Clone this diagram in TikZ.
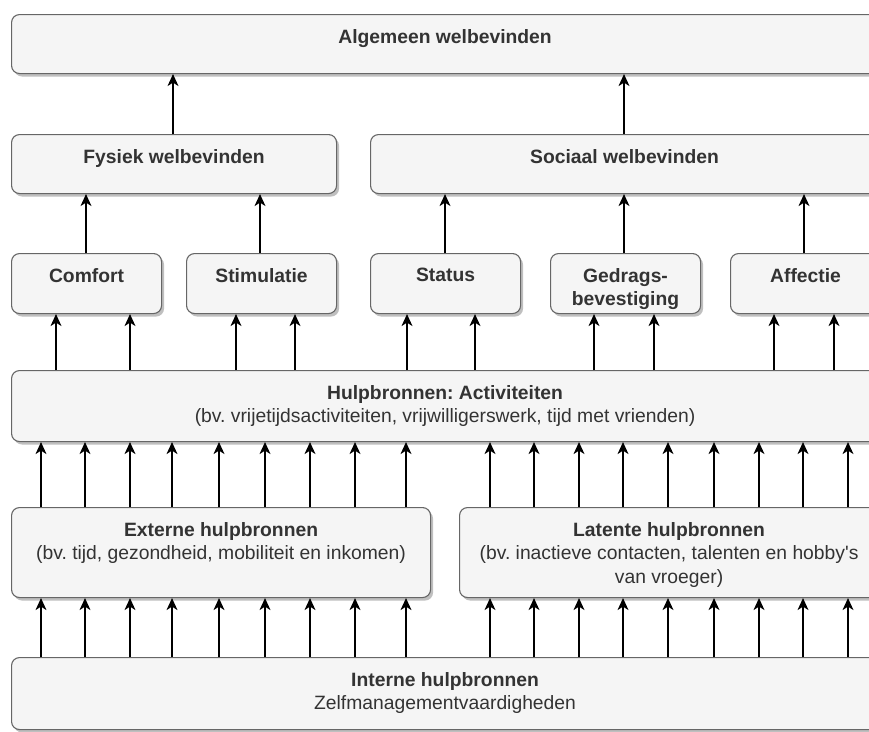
\documentclass[tikz,border=0pt]{standalone}
\usepackage{fontspec}
\setmainfont{Liberation Sans}
\usetikzlibrary{arrows.meta,shadows}

\definecolor{boxfill}{HTML}{F5F5F5}
\definecolor{boxline}{HTML}{666666}
\definecolor{boxtext}{HTML}{333333}

\frenchspacing

\begin{document}
\begin{tikzpicture}[x=1pt,y=-1pt,
   box/.style={draw=boxline, fill=boxfill, line width=1.1pt, rounded corners=8pt,
      inner sep=0pt, anchor=north west,
      drop shadow={shadow xshift=2.5pt, shadow yshift=-3pt, fill=black, opacity=.25}},
   txt/.style={anchor=north, inner sep=0pt, align=center, text=boxtext,
      font=\fontsize{19.3}{23.5}\selectfont},
   ttl/.style={txt, font=\fontsize{19.3}{23.5}\selectfont\bfseries},
   arr/.style={-{Stealth[length=12pt,width=11pt,inset=3.5pt]}, line width=1.1pt, black}]

   \useasboundingbox (0,0) rectangle (869,731);
   \clip (0,0) rectangle (869,731);

%  boxes
   \node[box, minimum width=867, minimum height=59] (alg)  at (11,14)  {};
   \node[box, minimum width=325, minimum height=59] (fys)  at (11,134) {};
   \node[box, minimum width=508, minimum height=59] (soc)  at (370,134) {};

   \node[box, minimum width=150, minimum height=60] (comf) at (11,253)  {};
   \node[box, minimum width=150, minimum height=60] (stim) at (186,253) {};
   \node[box, minimum width=150, minimum height=60] (stat) at (370,253) {};
   \node[box, minimum width=150, minimum height=60] (gedr) at (550,253) {};
   \node[box, minimum width=150, minimum height=60] (aff)  at (730,253) {};

   \node[box, minimum width=867, minimum height=71] (act)  at (11,370)  {};
   \node[box, minimum width=419, minimum height=90] (ext)  at (11,507)  {};
   \node[box, minimum width=419, minimum height=90] (lat)  at (459,507) {};
   \node[box, minimum width=867, minimum height=72] (int)  at (11,657)  {};

%  texts
   \node[ttl] (alg-t)  at ([yshift=-15]alg.north)  {Algemeen welbevinden};
   \node[ttl] (fys-t)  at ([yshift=-15]fys.north)  {Fysiek welbevinden};
   \node[ttl] (soc-t)  at ([yshift=-15]soc.north)  {Sociaal welbevinden};
   \node[ttl] (comf-t) at ([yshift=-15]comf.north) {Comfort};
   \node[ttl] (stim-t) at ([yshift=-15]stim.north) {Stimulatie};
   \node[ttl] (stat-t) at ([yshift=-15]stat.north) {Status};
   \node[ttl] (gedr-t) at ([yshift=-15]gedr.north) {Gedrags-\\bevestiging};
   \node[ttl] (aff-t)  at ([yshift=-15]aff.north)  {Affectie};
   \node[txt] (act-t)  at ([yshift=-15]act.north)
      {\textbf{Hulpbronnen: Activiteiten}\\(bv. vrijetijdsactiviteiten, vrijwilligerswerk, tijd met vrienden)};
   \node[txt] (ext-t)  at ([yshift=-15]ext.north)
      {\textbf{Externe hulpbronnen}\\(bv. tijd, gezondheid, mobiliteit en inkomen)};
   \node[txt] (lat-t)  at ([yshift=-15]lat.north)
      {\textbf{Latente hulpbronnen}\\(bv. inactieve contacten, talenten en hobby\textquotesingle s\\van vroeger)};
   \node[txt] (int-t)  at ([yshift=-15]int.north)
      {\textbf{Interne hulpbronnen}\\Zelfmanagementvaardigheden};

%  arrows
   \foreach \x/\from/\to in {173/fys/alg, 624/soc/alg,
         86/comf/fys, 260/stim/fys, 445/stat/soc, 624/gedr/soc, 804/aff/soc,
         56/act/comf, 130/act/comf, 236/act/stim, 295/act/stim,
         407/act/stat, 475/act/stat, 594/act/gedr, 654/act/gedr,
         774/act/aff, 834/act/aff}
   {
      \coordinate (p) at (\x,0);
      \draw[arr] (\from.north -| p) -- (\to.south -| p);
   }

   \foreach \x in {41,85,130,172,219,265,310,355,406}
   {
      \coordinate (p) at (\x,0);
      \draw[arr] (int.north -| p) -- (ext.south -| p);
      \draw[arr] (ext.north -| p) -- (act.south -| p);
   }

   \foreach \x in {490,534,579,623,668,714,759,803,848}
   {
      \coordinate (p) at (\x,0);
      \draw[arr] (int.north -| p) -- (lat.south -| p);
      \draw[arr] (lat.north -| p) -- (act.south -| p);
   }

 \end{tikzpicture}
\end{document}
